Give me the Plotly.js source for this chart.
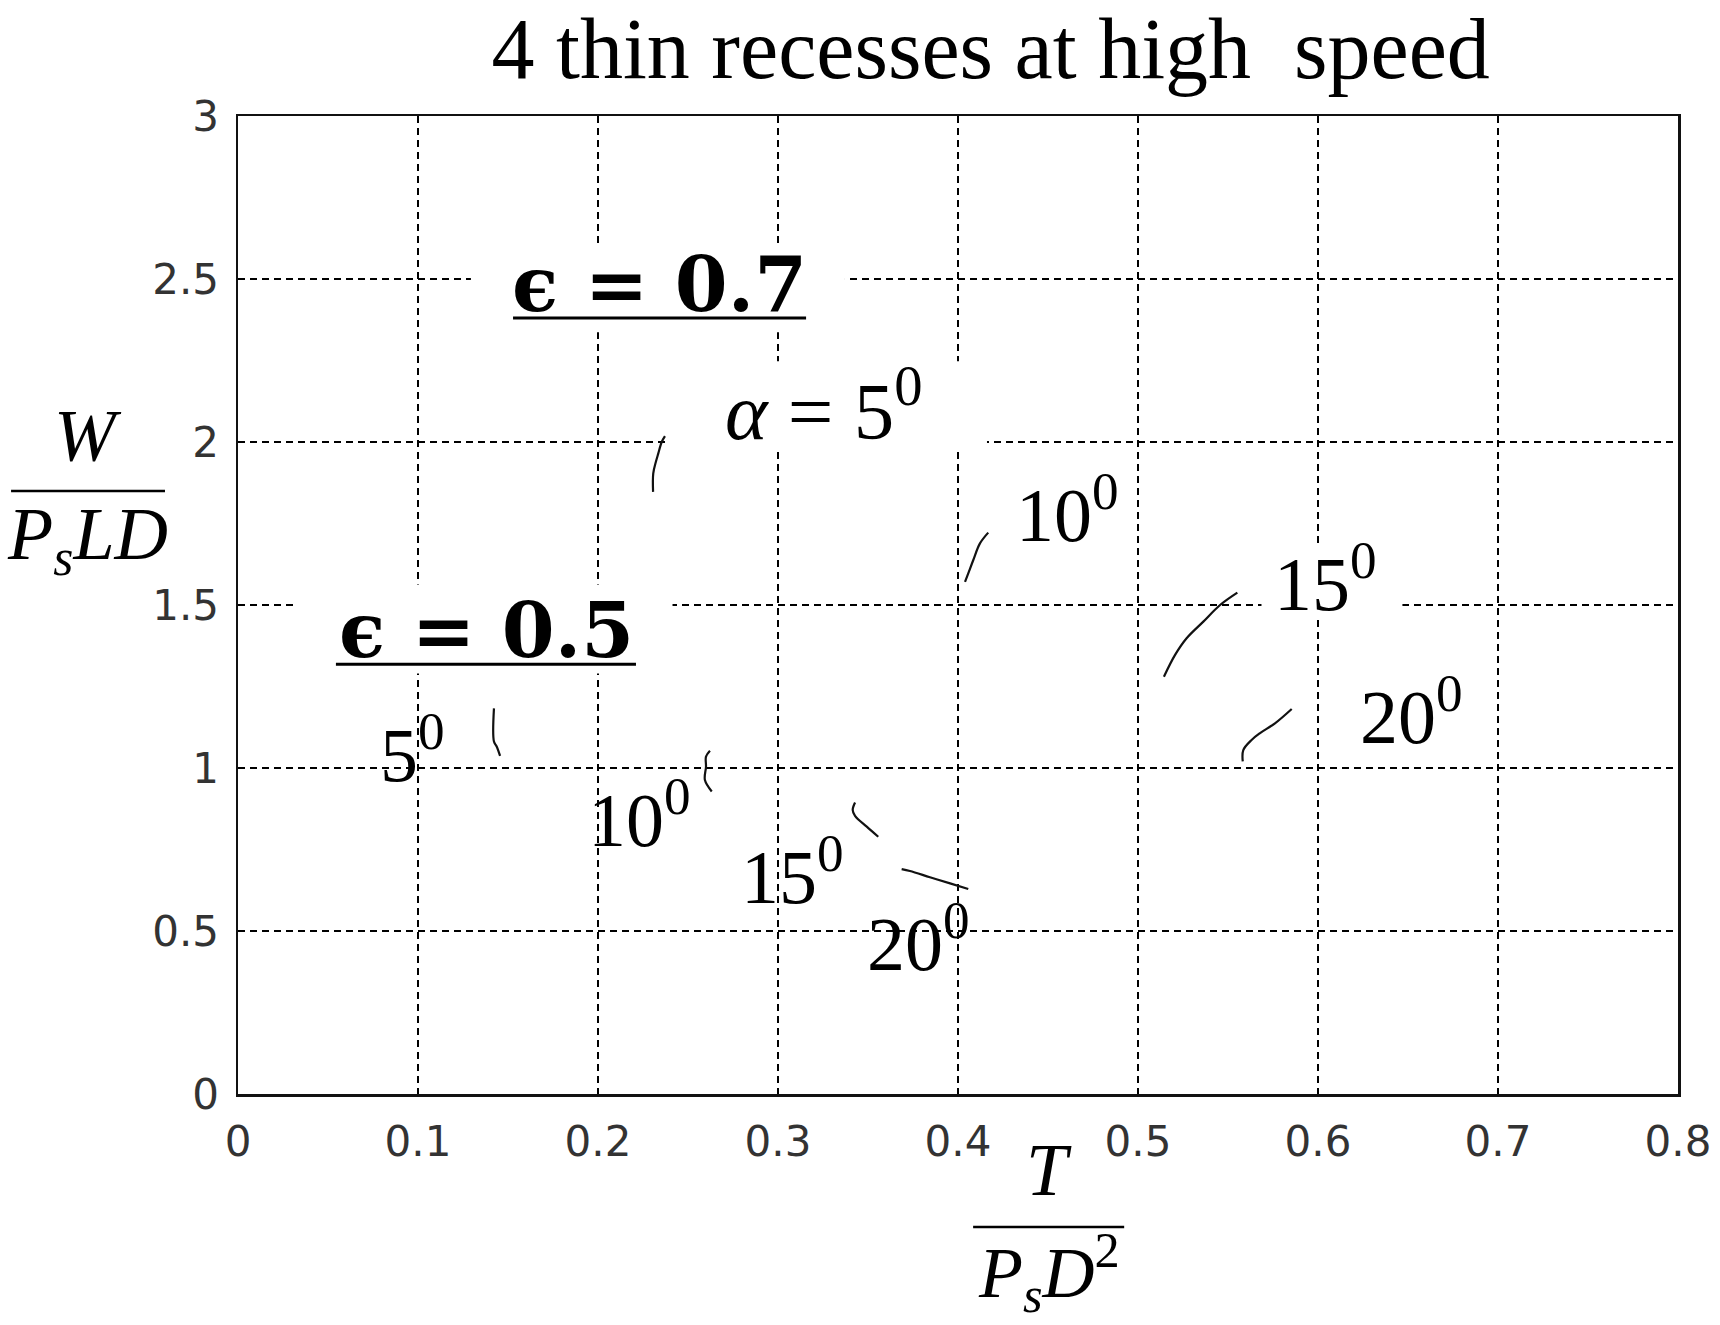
<!DOCTYPE html>
<html>
<head>
<meta charset="utf-8">
<script src="https://cdn.plot.ly/plotly-3.0.1.min.js"></script>
<style>html,body{margin:0;padding:0;background:#fff;}#chart{width:1720px;height:1325px;}</style>
</head>
<body>
<div id="chart"></div>
<script>
// ---- data ----
const eps07_a5_x  = [0.2372, 0.2354, 0.2335, 0.2322, 0.2307, 0.2306];
const eps07_a5_y  = [2.018, 2.000, 1.965, 1.940, 1.904, 1.847];
const eps07_a10_x = [0.4168, 0.4122, 0.4085, 0.4057, 0.4039];
const eps07_a10_y = [1.722, 1.689, 1.638, 1.597, 1.571];
const eps07_a15_x = [0.5552, 0.5456, 0.5363, 0.5270, 0.5206, 0.5144];
const eps07_a15_y = [1.538, 1.500, 1.449, 1.398, 1.347, 1.280];
const eps07_a20_x = [0.5854, 0.5761, 0.5678, 0.5631, 0.5585, 0.5582];
const eps07_a20_y = [1.181, 1.137, 1.107, 1.086, 1.055, 1.020];
const eps05_a5_x  = [0.1422, 0.1422, 0.1437, 0.1456];
const eps05_a5_y  = [1.183, 1.081, 1.066, 1.037];
const eps05_a10_x = [0.2622, 0.2600, 0.2600, 0.2594, 0.2632];
const eps05_a10_y = [1.053, 1.035, 1.004, 0.963, 0.928];
const eps05_a15_x = [0.3428, 0.3415, 0.3428, 0.3493, 0.3557];
const eps05_a15_y = [0.894, 0.871, 0.853, 0.820, 0.789];
const eps05_a20_x = [0.3687, 0.3733, 0.3844, 0.3956, 0.4057];
const eps05_a20_y = [0.690, 0.684, 0.665, 0.646, 0.629];

const xTickVals = [0, 0.1, 0.2, 0.3, 0.4, 0.5, 0.6, 0.7, 0.8];
const xTickText = ["0", "0.1", "0.2", "0.3", "0.4", "0.5", "0.6", "0.7", "0.8"];
const yTickVals = [0, 0.5, 1, 1.5, 2, 2.5, 3];
const yTickText = ["0", "0.5", "1", "1.5", "2", "2.5", "3"];

const titleText = "4 thin recesses at high&nbsp; speed";
const eps07Label = "ϵ = 0.7";
const eps05Label = "ϵ = 0.5";
const alphaLabels07 = ["<i>α</i> = 5<sup>0</sup>", "10<sup>0</sup>", "15<sup>0</sup>", "20<sup>0</sup>"];
const alphaLabels05 = ["5<sup>0</sup>", "10<sup>0</sup>", "15<sup>0</sup>", "20<sup>0</sup>"];

// ---- traces ----
const series = [
  [eps07_a5_x, eps07_a5_y], [eps07_a10_x, eps07_a10_y],
  [eps07_a15_x, eps07_a15_y], [eps07_a20_x, eps07_a20_y],
  [eps05_a5_x, eps05_a5_y], [eps05_a10_x, eps05_a10_y],
  [eps05_a15_x, eps05_a15_y], [eps05_a20_x, eps05_a20_y]
];
const traces = series.map(s => ({
  x: s[0], y: s[1], type: 'scatter', mode: 'lines',
  line: {color: '#111', width: 2.2, shape: 'spline'},
  hoverinfo: 'skip', showlegend: false
}));

const serif = 'Liberation Serif, DejaVu Serif, serif';
const lblFont = {family: serif, size: 76, color: '#000'};
const epsFont = {family: 'DejaVu Serif, serif', size: 76, color: '#000', weight: 'bold'};

function lab(text, x, y, opts) {
  return Object.assign({
    text: text, x: x, y: y, xref: 'x', yref: 'y', showarrow: false,
    xanchor: 'center', yanchor: 'middle', font: lblFont
  }, opts || {});
}
function pap(text, x, y, font) {
  return {text: text, x: x, y: y, xref: 'paper', yref: 'paper', showarrow: false,
    xanchor: 'center', yanchor: 'middle', font: font};
}
const fracFont = {family: serif, size: 74, color: '#000'};

const annotations = [
  lab('<b>' + eps07Label + '</b>', 0.2339, 2.482, {font: epsFont}),
  lab(alphaLabels07[0], 0.3256, 2.113, {font: {family: serif, size: 81, color: '#000'}}),
  lab(alphaLabels07[1], 0.4610, 1.792),
  lab(alphaLabels07[2], 0.6040, 1.580),
  lab(alphaLabels07[3], 0.6520, 1.174),
  lab('<b>' + eps05Label + '</b>', 0.1378, 1.423, {font: epsFont}),
  lab(alphaLabels05[0], 0.0967, 1.058),
  lab(alphaLabels05[1], 0.2230, 0.858),
  lab(alphaLabels05[2], 0.3080, 0.683),
  lab(alphaLabels05[3], 0.3780, 0.478),
  // axis titles as fractions
  pap('<i>W</i>', -0.1042, 0.6728, fracFont),
  pap('<i>P<sub>s</sub>LD</i>', -0.1042, 0.5665, fracFont),
  pap('<i>T</i>', 0.563, -0.0779, fracFont),
  pap('<i>P<sub>s</sub>D</i><sup>2</sup>', 0.563, -0.1830, {family: serif, size: 72, color: '#000'})
];

// white filled text boxes (hide the grid behind labels), underlines, fraction bars
function box(x0, x1, y0, y1) {
  return {type: 'rect', xref: 'x', yref: 'y', x0: x0, x1: x1, y0: y0, y1: y1,
          fillcolor: '#fff', line: {width: 0}, layer: 'between'};
}
function uline(x0, x1, y) {
  return {type: 'line', xref: 'x', yref: 'y', x0: x0, x1: x1, y0: y, y1: y,
          line: {color: '#000', width: 3}, layer: 'above'};
}
const shapes = [
  box(0.1294, 0.3372, 2.337, 2.595),
  box(0.2383, 0.4161, 1.984, 2.248),
  box(0.5686, 0.6469, 1.454, 1.675),
  box(0.0331, 0.2414, 1.290, 1.563),
  uline(0.1528, 0.3156, 2.380),
  uline(0.0544, 0.2211, 1.318),
  {type: 'line', xref: 'paper', yref: 'paper', x0: -0.1576, x1: -0.0507, y0: 0.6166, y1: 0.6166,
   line: {color: '#000', width: 2.5}},
  {type: 'line', xref: 'paper', yref: 'paper', x0: 0.5105, x1: 0.6154, y0: -0.1360, y1: -0.1360,
   line: {color: '#000', width: 2.5}}
];

const axisCommon = {
  showgrid: true, gridcolor: '#000', gridwidth: 2.2, griddash: '7px,5px',
  zeroline: false, showline: true, linecolor: '#111', linewidth: 2.5, mirror: true,
  ticks: '', tickfont: {family: 'DejaVu Sans, Liberation Sans, sans-serif', size: 42, color: '#333'},
  tickmode: 'array', fixedrange: true
};

const layout = {
  width: 1720, height: 1325,
  margin: {l: 238, r: 42, t: 116, b: 231, pad: 0},
  paper_bgcolor: '#fff', plot_bgcolor: '#fff',
  showlegend: false,
  title: {text: titleText, xref: 'container', yref: 'container', x: 0.5760, y: 0.964,
          xanchor: 'center', yanchor: 'middle',
          font: {family: 'Liberation Serif, Times New Roman, serif', size: 86, color: '#000'}},
  xaxis: Object.assign({}, axisCommon, {range: [0, 0.8], tickvals: xTickVals, ticktext: xTickText,
          ticklabelstandoff: 9}),
  yaxis: Object.assign({}, axisCommon, {range: [0, 3], tickvals: yTickVals, ticktext: yTickText,
          ticklabelstandoff: 8}),
  annotations: annotations,
  shapes: shapes
};

Plotly.newPlot('chart', traces, layout, {displayModeBar: false, staticPlot: true});
</script>
</body>
</html>
